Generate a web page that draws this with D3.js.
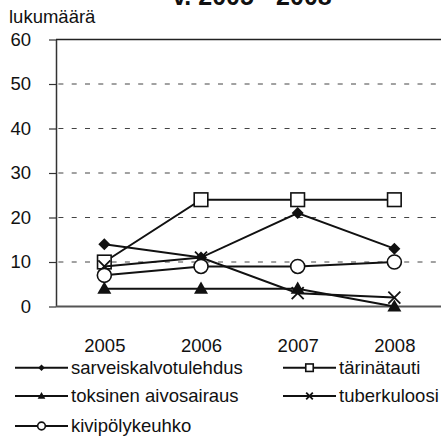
<!DOCTYPE html>
<html>
<head>
<meta charset="utf-8">
<script src="https://cdn.jsdelivr.net/npm/d3@7"></script>
<style>
  html, body { margin: 0; padding: 0; background: #fff; }
  svg { display: block; font-family: "Liberation Sans", Arial, sans-serif; }
</style>
</head>
<body>
<svg id="chart" width="441" height="443"></svg>
<script>
// Years on the horizontal axis
const years = ["2005", "2006", "2007", "2008"];
// Y-axis tick values
const yTicks = [0, 10, 20, 30, 40, 50, 60];

// Cases per year for each occupational disease
const sarveiskalvotulehdus = [14, 11, 21, 13];
const tarinatauti = [10, 24, 24, 24];
const toksinenAivosairaus = [4, 4, 4, 0];
const tuberkuloosi = [9, 11, 3, 2];
const kivipolykeuhko = [7, 9, 9, 10];

const seriesNames = ["sarveiskalvotulehdus", "tärinätauti", "toksinen aivosairaus", "tuberkuloosi", "kivipölykeuhko"];
const seriesValues = [sarveiskalvotulehdus, tarinatauti, toksinenAivosairaus, tuberkuloosi, kivipolykeuhko];
const seriesMarkers = ["diamond", "square", "triangle", "x", "circle"];

const svg = d3.select("#chart");
const plotLeft = 56, plotRight = 442.7, plotTop = 39.5, plotBottom = 306.5;

const x = d3.scalePoint().domain(years).range([plotLeft, plotRight]).padding(0.5);
const y = d3.scaleLinear().domain([0, 60]).range([plotBottom, plotTop]);

// Title (second line of the heading)
svg.append("text")
  .attr("x", 252).attr("y", 5)
  .attr("text-anchor", "middle")
  .attr("font-size", 25).attr("font-weight", "bold")
  .attr("fill", "#111")
  .text("v. 2005 - 2008");

// Y-axis caption
svg.append("text")
  .attr("x", 9).attr("y", 23)
  .attr("font-size", 18.5).attr("fill", "#111")
  .text("lukumäärä");

// Dashed gridlines; the top one is solid
const grid = svg.append("g");
grid.selectAll("line")
  .data(yTicks.filter(d => d > 0))
  .join("line")
  .attr("x1", plotLeft).attr("x2", 441)
  .attr("y1", d => y(d)).attr("y2", d => y(d))
  .attr("stroke", d => d === 60 ? "#222" : "#444")
  .attr("stroke-width", d => d === 60 ? 1.3 : 1)
  .attr("stroke-dasharray", d => d === 60 ? null : "5,8.3")
  .attr("stroke-dashoffset", 10.9);

// Left axis
const yAxis = svg.append("g")
  .attr("transform", `translate(${plotLeft},0)`)
  .call(d3.axisLeft(y).tickValues(yTicks).tickSize(7).tickSizeOuter(0).tickPadding(18));
yAxis.select(".domain").attr("stroke", "#333").attr("stroke-width", 1.5);
yAxis.selectAll(".tick line").attr("stroke", "#333").attr("stroke-width", 1.2);
yAxis.selectAll(".tick text")
  .attr("font-size", 18.5).attr("fill", "#111")
  .attr("font-family", "Liberation Sans, Arial, sans-serif");

// Bottom axis with year labels
const xAxis = svg.append("g")
  .attr("transform", `translate(0,${plotBottom})`)
  .call(d3.axisBottom(x).tickSize(0).tickPadding(32));
xAxis.select(".domain").remove();
xAxis.selectAll(".tick text")
  .attr("font-size", 18.5).attr("fill", "#111")
  .attr("font-family", "Liberation Sans, Arial, sans-serif");
svg.append("line")
  .attr("x1", plotLeft).attr("x2", 441)
  .attr("y1", plotBottom).attr("y2", plotBottom)
  .attr("stroke", "#555").attr("stroke-width", 2);

// Marker drawing helper
function drawMarker(g, type, cx, cy, scale) {
  const s = scale;
  if (type === "diamond") {
    g.append("path")
      .attr("d", d3.symbol(d3.symbolSquare, 72 * s * s)())
      .attr("transform", `translate(${cx},${cy}) rotate(45)`)
      .attr("fill", "#111");
  } else if (type === "square") {
    const h = 6.8 * s;
    g.append("rect")
      .attr("x", cx - h).attr("y", cy - h)
      .attr("width", 2 * h).attr("height", 2 * h)
      .attr("fill", "#fff").attr("stroke", "#111").attr("stroke-width", 1.6);
  } else if (type === "triangle") {
    g.append("path")
      .attr("d", d3.symbol(d3.symbolTriangle, 85 * s * s)())
      .attr("transform", `translate(${cx},${cy + 1 * s})`)
      .attr("fill", "#111");
  } else if (type === "x") {
    const h = 6 * s;
    g.append("path")
      .attr("d", `M${cx - h},${cy - h}L${cx + h},${cy + h}M${cx - h},${cy + h}L${cx + h},${cy - h}`)
      .attr("stroke", "#111").attr("stroke-width", 1.8).attr("fill", "none");
  } else if (type === "circle") {
    g.append("circle")
      .attr("cx", cx).attr("cy", cy).attr("r", 7 * s)
      .attr("fill", "#fff").attr("stroke", "#111").attr("stroke-width", 1.6);
  }
}

// Series lines and markers
const line = d3.line().x((d, i) => x(years[i])).y(d => y(d));
seriesValues.forEach((vals, k) => {
  const g = svg.append("g");
  g.append("path")
    .attr("d", line(vals))
    .attr("fill", "none").attr("stroke", "#111").attr("stroke-width", 2);
  vals.forEach((v, i) => drawMarker(g, seriesMarkers[k], x(years[i]), y(v), 1));
});

// Legend
const legendPos = [
  { lx: 15, ly: 367.7 },
  { lx: 283, ly: 367.7 },
  { lx: 15, ly: 396 },
  { lx: 283, ly: 396 },
  { lx: 15, ly: 426 }
];
seriesNames.forEach((name, k) => {
  const p = legendPos[k];
  const g = svg.append("g");
  g.append("line")
    .attr("x1", p.lx).attr("x2", p.lx + 53)
    .attr("y1", p.ly).attr("y2", p.ly)
    .attr("stroke", "#111").attr("stroke-width", 2);
  drawMarker(g, seriesMarkers[k], p.lx + 26.5, p.ly, 0.55);
  g.append("text")
    .attr("x", p.lx + 56).attr("y", p.ly + 5.8)
    .attr("font-size", 18.5).attr("fill", "#111")
    .text(name);
});
</script>
</body>
</html>
